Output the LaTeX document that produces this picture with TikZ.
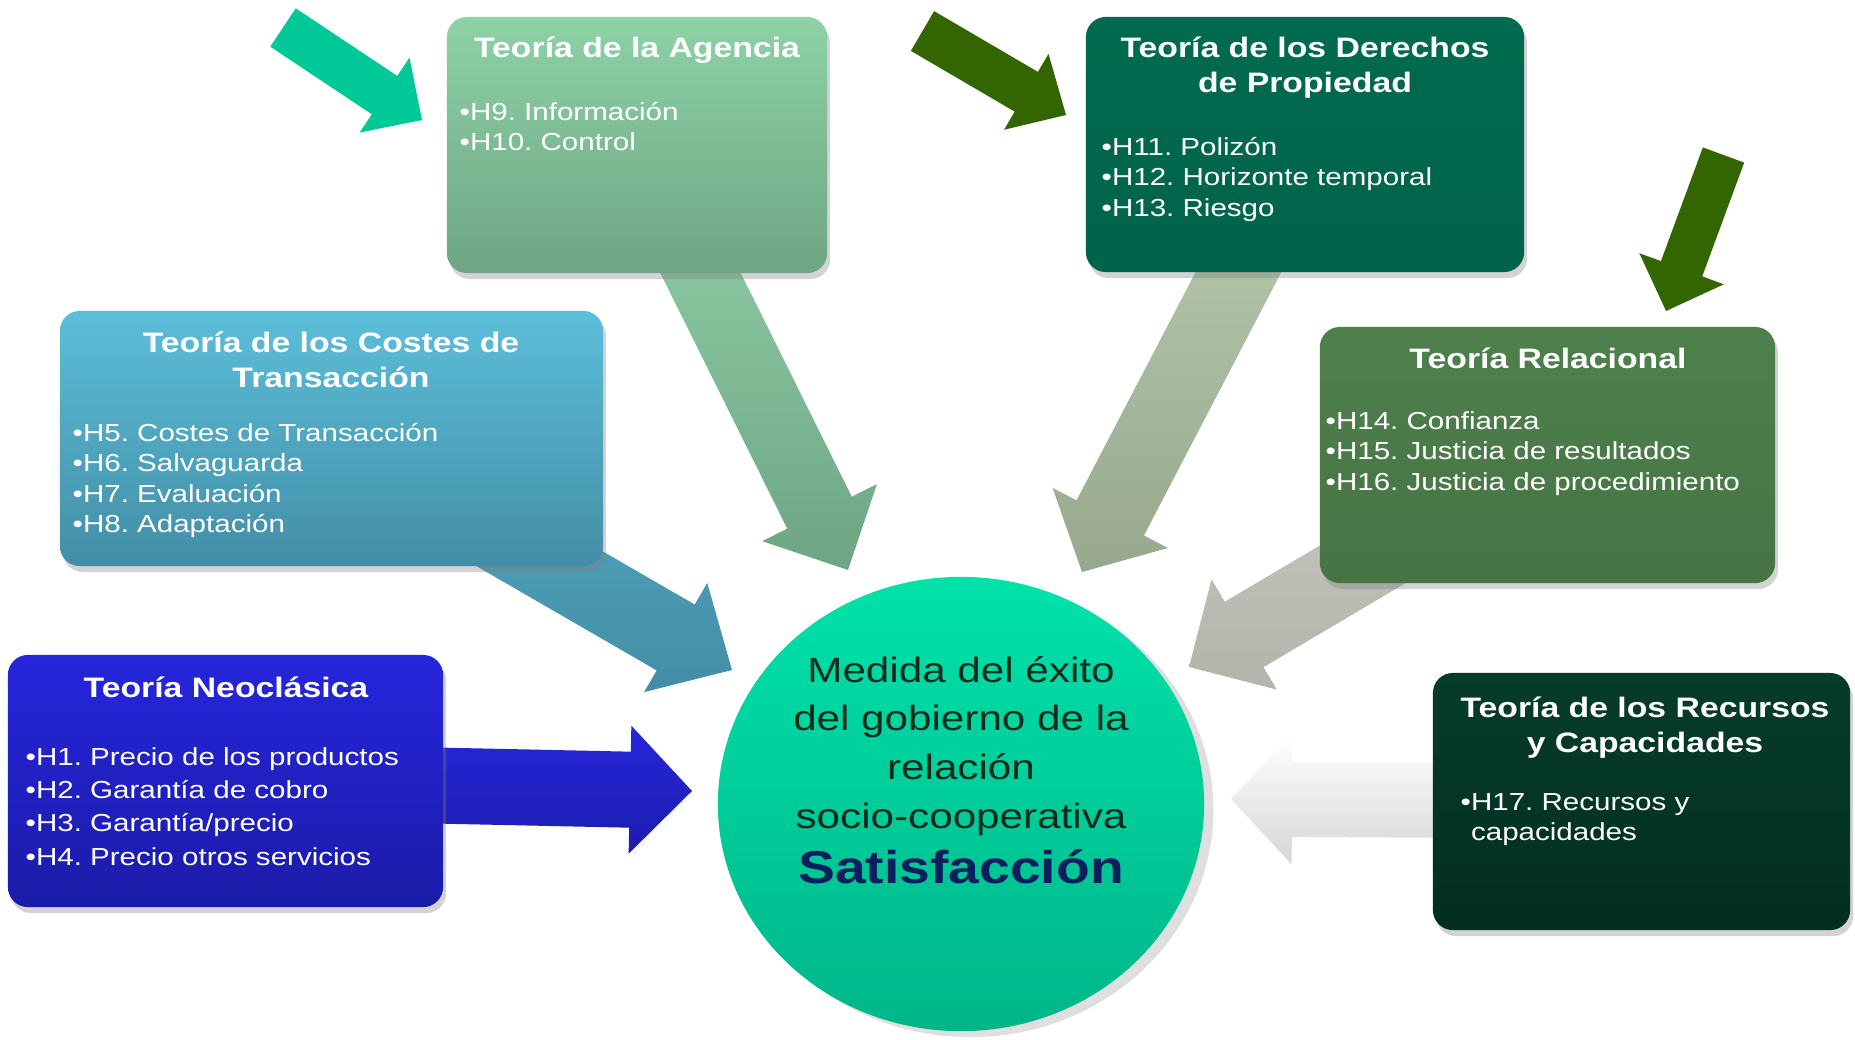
\documentclass[tikz,border=0pt]{standalone}
\usepackage{fontspec}
\setmainfont{Liberation Sans}[FakeStretch=1.2]
\usepackage{tikz}
\usetikzlibrary{calc,shapes.geometric,shadows,backgrounds}
\definecolor{agtop}{HTML}{8ED2A6}
\definecolor{agbot}{HTML}{6EA584}
\definecolor{dertop}{HTML}{006B4E}
\definecolor{derbot}{HTML}{00634A}
\definecolor{cotop}{HTML}{5CBED9}
\definecolor{cobot}{HTML}{438EA6}
\definecolor{retop}{HTML}{4E804C}
\definecolor{rebot}{HTML}{477445}
\definecolor{neotop}{HTML}{2626DC}
\definecolor{neobot}{HTML}{1B1BA8}
\definecolor{rectop}{HTML}{063C2C}
\definecolor{recbot}{HTML}{032E20}
\definecolor{citop}{HTML}{00E2AA}
\definecolor{cibot}{HTML}{00B689}
\definecolor{dartop}{HTML}{BACEB2}
\definecolor{darbot}{HTML}{97A88D}
\definecolor{reatop}{HTML}{CBCBC4}
\definecolor{reabot}{HTML}{B3B3AB}
\definecolor{teal}{HTML}{00C896}
\definecolor{dkgreen}{HTML}{336600}
\definecolor{circtxt}{HTML}{0B2B1D}
\definecolor{navy}{HTML}{0B1F5E}
\tikzset{box/.style={rectangle, rounded corners=0.2cm, inner sep=0pt, drop shadow={opacity=0.35, shadow xshift=0.03cm, shadow yshift=-0.06cm}}}
\tikzset{ttl/.style={text=white, font=\fontsize{8}{10.2}\selectfont\bfseries, anchor=base, inner sep=0pt}}
\tikzset{itm/.style={text=white, font=\fontsize{7}{8.7}\selectfont, anchor=base west, inner sep=0pt}}
\newcommand{\barrow}[6]{%
  \coordinate (ba) at ($(#3)!#6!(#2)$);
  \path[#1] ($(#2)!#4!90:(#3)$) -- ($(ba)!#4!90:(#3)$) -- ($(ba)!#5!90:(#3)$) -- (#3) -- ($(ba)!#5!-90:(#3)$) -- ($(ba)!#4!-90:(#3)$) -- ($(#2)!#4!-90:(#3)$) -- cycle;}

\begin{document}
\frenchspacing
\begin{tikzpicture}[x=0.01cm,y=-0.01cm]
\useasboundingbox (0,0) rectangle (1855,1039);
\node[box, top color=agtop, bottom color=agbot, minimum width=3.8cm, minimum height=2.56cm] (agencia) at (637,145) {};
\node[box, top color=dertop, bottom color=derbot, minimum width=4.38cm, minimum height=2.55cm] (derechos) at (1305,144.5) {};
\node[box, top color=cotop, bottom color=cobot, minimum width=5.43cm, minimum height=2.55cm] (costes) at (331.5,438.5) {};
\node[box, top color=retop, bottom color=rebot, minimum width=4.55cm, minimum height=2.56cm] (relacional) at (1547.5,455) {};
\node[box, top color=neotop, bottom color=neobot, minimum width=4.35cm, minimum height=2.52cm] (neoclasica) at (225.5,781) {};
\node[box, top color=rectop, bottom color=recbot, minimum width=4.17cm, minimum height=2.57cm] (recursos) at (1641.5,801.5) {};
\node[ellipse, inner sep=0pt, top color=citop, bottom color=cibot, minimum width=4.86cm, minimum height=4.54cm, drop shadow={opacity=0.25, shadow yshift=-0.06cm}] (exito) at (961,804) {};

\node[ttl] (agenciaT) at (637,57) {Teoría de la Agencia};
\node[itm] (agenciaL) at (459,120) {\begin{tabular}[t]{@{}l@{}}•H9. Información\\•H10. Control\end{tabular}};
\node[ttl] (derechosT) at (1305,57) {\begin{tabular}[t]{@{}c@{}}Teoría de los Derechos\\de Propiedad\end{tabular}};
\node[itm] (derechosL) at (1101,155) {\begin{tabular}[t]{@{}l@{}}•H11. Polizón\\•H12. Horizonte temporal\\•H13. Riesgo\end{tabular}};
\node[ttl] (costesT) at (331,352) {\begin{tabular}[t]{@{}c@{}}Teoría de los Costes de\\Transacción\end{tabular}};
\node[itm] (costesL) at (72,441) {\begin{tabular}[t]{@{}l@{}}•H5. Costes de Transacción\\•H6. Salvaguarda\\•H7. Evaluación\\•H8. Adaptación\end{tabular}};
\node[ttl] (relacionalT) at (1548,368) {Teoría Relacional};
\node[itm] (relacionalL) at (1325,429) {\begin{tabular}[t]{@{}l@{}}•H14. Confianza\\•H15. Justicia de resultados\\•H16. Justicia de procedimiento\end{tabular}};
\node[ttl] (neoclasicaT) at (226,697) {Teoría Neoclásica};
\node[itm, font=\fontsize{7}{9.5}\selectfont] (neoclasicaL) at (25,765) {\begin{tabular}[t]{@{}l@{}}•H1. Precio de los productos\\•H2. Garantía de cobro\\•H3. Garantía/precio\\•H4. Precio otros servicios\end{tabular}};
\node[ttl] (recursosT) at (1645,717) {\begin{tabular}[t]{@{}c@{}}Teoría de los Recursos\\y Capacidades\end{tabular}};
\node[itm] (recursosL) at (1460,810) {\begin{tabular}[t]{@{}l@{}}•H17. Recursos y\\\hphantom{•}capacidades\end{tabular}};
\node[anchor=base, inner sep=0pt, text=circtxt, font=\fontsize{10}{13.9}\selectfont] (exitoT) at (961,682) {\begin{tabular}[t]{@{}c@{}}Medida del éxito\\del gobierno de la\\relación\\socio-cooperativa\end{tabular}};
\node[anchor=base, inner sep=0pt, text=navy, font=\fontsize{13.1}{15}\selectfont\bfseries] (satisf) at (961,883) {Satisfacción};

\coordinate (agT) at (848,570);
\coordinate (derT) at (1082,572);
\coordinate (coT) at (732,670);
\coordinate (reT) at (1189,667);
\coordinate (neoT) at (692,791);
\coordinate (recT) at (1231,799);
\begin{pgfonlayer}{background}
\barrow{top color=agtop!95!white, bottom color=agbot}{agencia.center}{agT}{0.36cm}{0.64cm}{0.64cm}
\barrow{top color=dartop, bottom color=darbot}{derechos.center}{derT}{0.38cm}{0.65cm}{0.61cm}
\barrow{top color=cotop!90!black, bottom color=cobot}{costes.center}{coT}{0.38cm}{0.63cm}{0.65cm}
\barrow{top color=reatop, bottom color=reabot}{relacional.center}{reT}{0.38cm}{0.64cm}{0.64cm}
\barrow{top color=neotop, bottom color=neobot!90!neotop}{neoclasica.center}{neoT}{0.38cm}{0.64cm}{0.62cm}
\barrow{top color=white, bottom color=black!16}{recursos.center}{recT}{0.375cm}{0.65cm}{0.61cm}
\end{pgfonlayer}

\coordinate (d1S) at (283,27.5);
\coordinate (d1T) at (422,120);
\coordinate (d2S) at (922.5,31);
\coordinate (d2T) at (1066,115);
\coordinate (d3S) at (1723.5,155);
\coordinate (d3T) at (1666,311);
\barrow{fill=teal}{d1S}{d1T}{0.23cm}{0.45cm}{0.45cm}
\barrow{fill=dkgreen}{d2S}{d2T}{0.23cm}{0.44cm}{0.46cm}
\barrow{fill=dkgreen}{d3S}{d3T}{0.22cm}{0.45cm}{0.45cm}
\end{tikzpicture}
\end{document}
